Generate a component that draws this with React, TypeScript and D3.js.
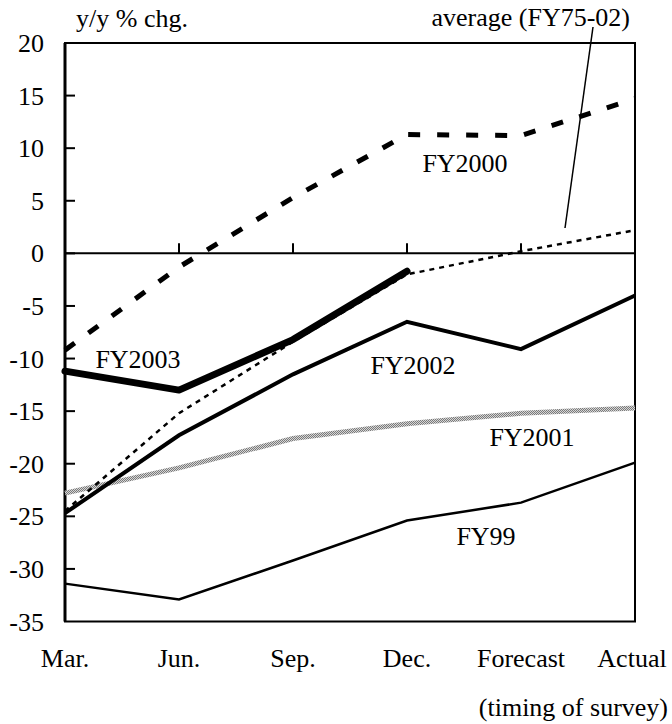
import React from "react";
import * as d3 from "d3";

const categories = ["Mar.", "Jun.", "Sep.", "Dec.", "Forecast", "Actual"];
const yTicks = [20, 15, 10, 5, 0, -5, -10, -15, -20, -25, -30, -35];

const fy2000 = [-9.2, -1.3, 5.3, 11.3, 11.2, 14.7];
const fy2003 = [-11.2, -13.0, -8.2, -1.7];
const fy2002 = [-24.7, -17.3, -11.5, -6.5, -9.1, -4.0];
const fy2001 = [-22.8, -20.4, -17.6, -16.2, -15.2, -14.7];
const fy99 = [-31.4, -32.9, -29.2, -25.4, -23.7, -19.9];
const average = [-24.5, -15.2, -8.4, -2.0, 0.2, 2.2];

const W = 672;
const H = 724;
const left = 65;
const right = 635;
const top = 43;
const bottom = 621.5;
const FONT = "'Liberation Serif', 'Times New Roman', serif";

export default function App() {
  const x = d3.scalePoint<string>().domain(categories).range([left, right]).padding(0);
  const y = d3.scaleLinear().domain([-35, 20]).range([bottom, top]);

  const line = d3
    .line<number>()
    .x((_, i) => x(categories[i]) as number)
    .y((d) => y(d));

  const fs = 26;

  return (
    <svg width={W} height={H} style={{ position: "absolute", left: 0, top: 0 }}>
      <defs>
        <pattern id="checker" width="2" height="2" patternUnits="userSpaceOnUse">
          <rect width="2" height="2" fill="#d6d6d6" />
          <rect width="1" height="1" fill="#7a7a7a" />
          <rect x="1" y="1" width="1" height="1" fill="#7a7a7a" />
        </pattern>
      </defs>
      <rect x={0} y={0} width={W} height={H} fill="#fff" />

      {/* frame */}
      <rect x={left} y={top} width={right - left} height={bottom - top} fill="none" stroke="#000" strokeWidth={2} />
      <line x1={left} x2={left} y1={top} y2={bottom} stroke="#000" strokeWidth={3} />
      {/* zero line */}
      <line x1={left} x2={right} y1={y(0)} y2={y(0)} stroke="#000" strokeWidth={2} />

      {/* y ticks */}
      {yTicks.map((t) => (
        <g key={t}>
          {t !== 20 && t !== -35 && (
            <line x1={left} x2={left + 10} y1={y(t)} y2={y(t)} stroke="#000" strokeWidth={2} />
          )}
          <text x={44} y={y(t) + 9} fontSize={fs} fontFamily={FONT} textAnchor="end">
            {t}
          </text>
        </g>
      ))}

      {/* x ticks on zero line */}
      {categories.slice(1, 5).map((c) => (
        <line key={c} x1={x(c)} x2={x(c)} y1={y(0)} y2={y(0) - 10} stroke="#000" strokeWidth={2} />
      ))}

      {/* x labels */}
      {categories.map((c, i) => (
        <text
          key={c}
          x={i === categories.length - 1 ? 632 : (x(c) as number)}
          y={667}
          fontSize={fs}
          fontFamily={FONT}
          textAnchor="middle"
        >
          {c}
        </text>
      ))}

      {/* series */}
      <path d={line(fy99) || ""} fill="none" stroke="#000" strokeWidth={2.5} />
      <path d={line(fy2001) || ""} fill="none" stroke="url(#checker)" strokeWidth={5} />
      <path d={line(fy2002) || ""} fill="none" stroke="#000" strokeWidth={4} strokeLinejoin="miter" />
      <path d={line(average) || ""} fill="none" stroke="#000" strokeWidth={2.5} strokeDasharray="5 5" />
      <path d={line(fy2000) || ""} fill="none" stroke="#000" strokeWidth={5} strokeDasharray="12 17" />
      <path d={line(fy2003) || ""} fill="none" stroke="#000" strokeWidth={7} strokeLinecap="round" strokeLinejoin="round" />

      {/* leader line */}
      <line x1={593} y1={27} x2={565} y2={228} stroke="#000" strokeWidth={1.5} />

      {/* labels */}
      <text x={76} y={27} fontSize={fs} fontFamily={FONT}>y/y % chg.</text>
      <text x={630} y={26} fontSize={fs} fontFamily={FONT} textAnchor="end">average (FY75-02)</text>
      <text x={465} y={172} fontSize={fs} fontFamily={FONT} textAnchor="middle">FY2000</text>
      <text x={138} y={368} fontSize={fs} fontFamily={FONT} textAnchor="middle">FY2003</text>
      <text x={413} y={374} fontSize={fs} fontFamily={FONT} textAnchor="middle">FY2002</text>
      <text x={532} y={446} fontSize={fs} fontFamily={FONT} textAnchor="middle">FY2001</text>
      <text x={486} y={545} fontSize={fs} fontFamily={FONT} textAnchor="middle">FY99</text>
      <text x={668} y={716} fontSize={fs} fontFamily={FONT} textAnchor="end">(timing of survey)</text>
    </svg>
  );
}
